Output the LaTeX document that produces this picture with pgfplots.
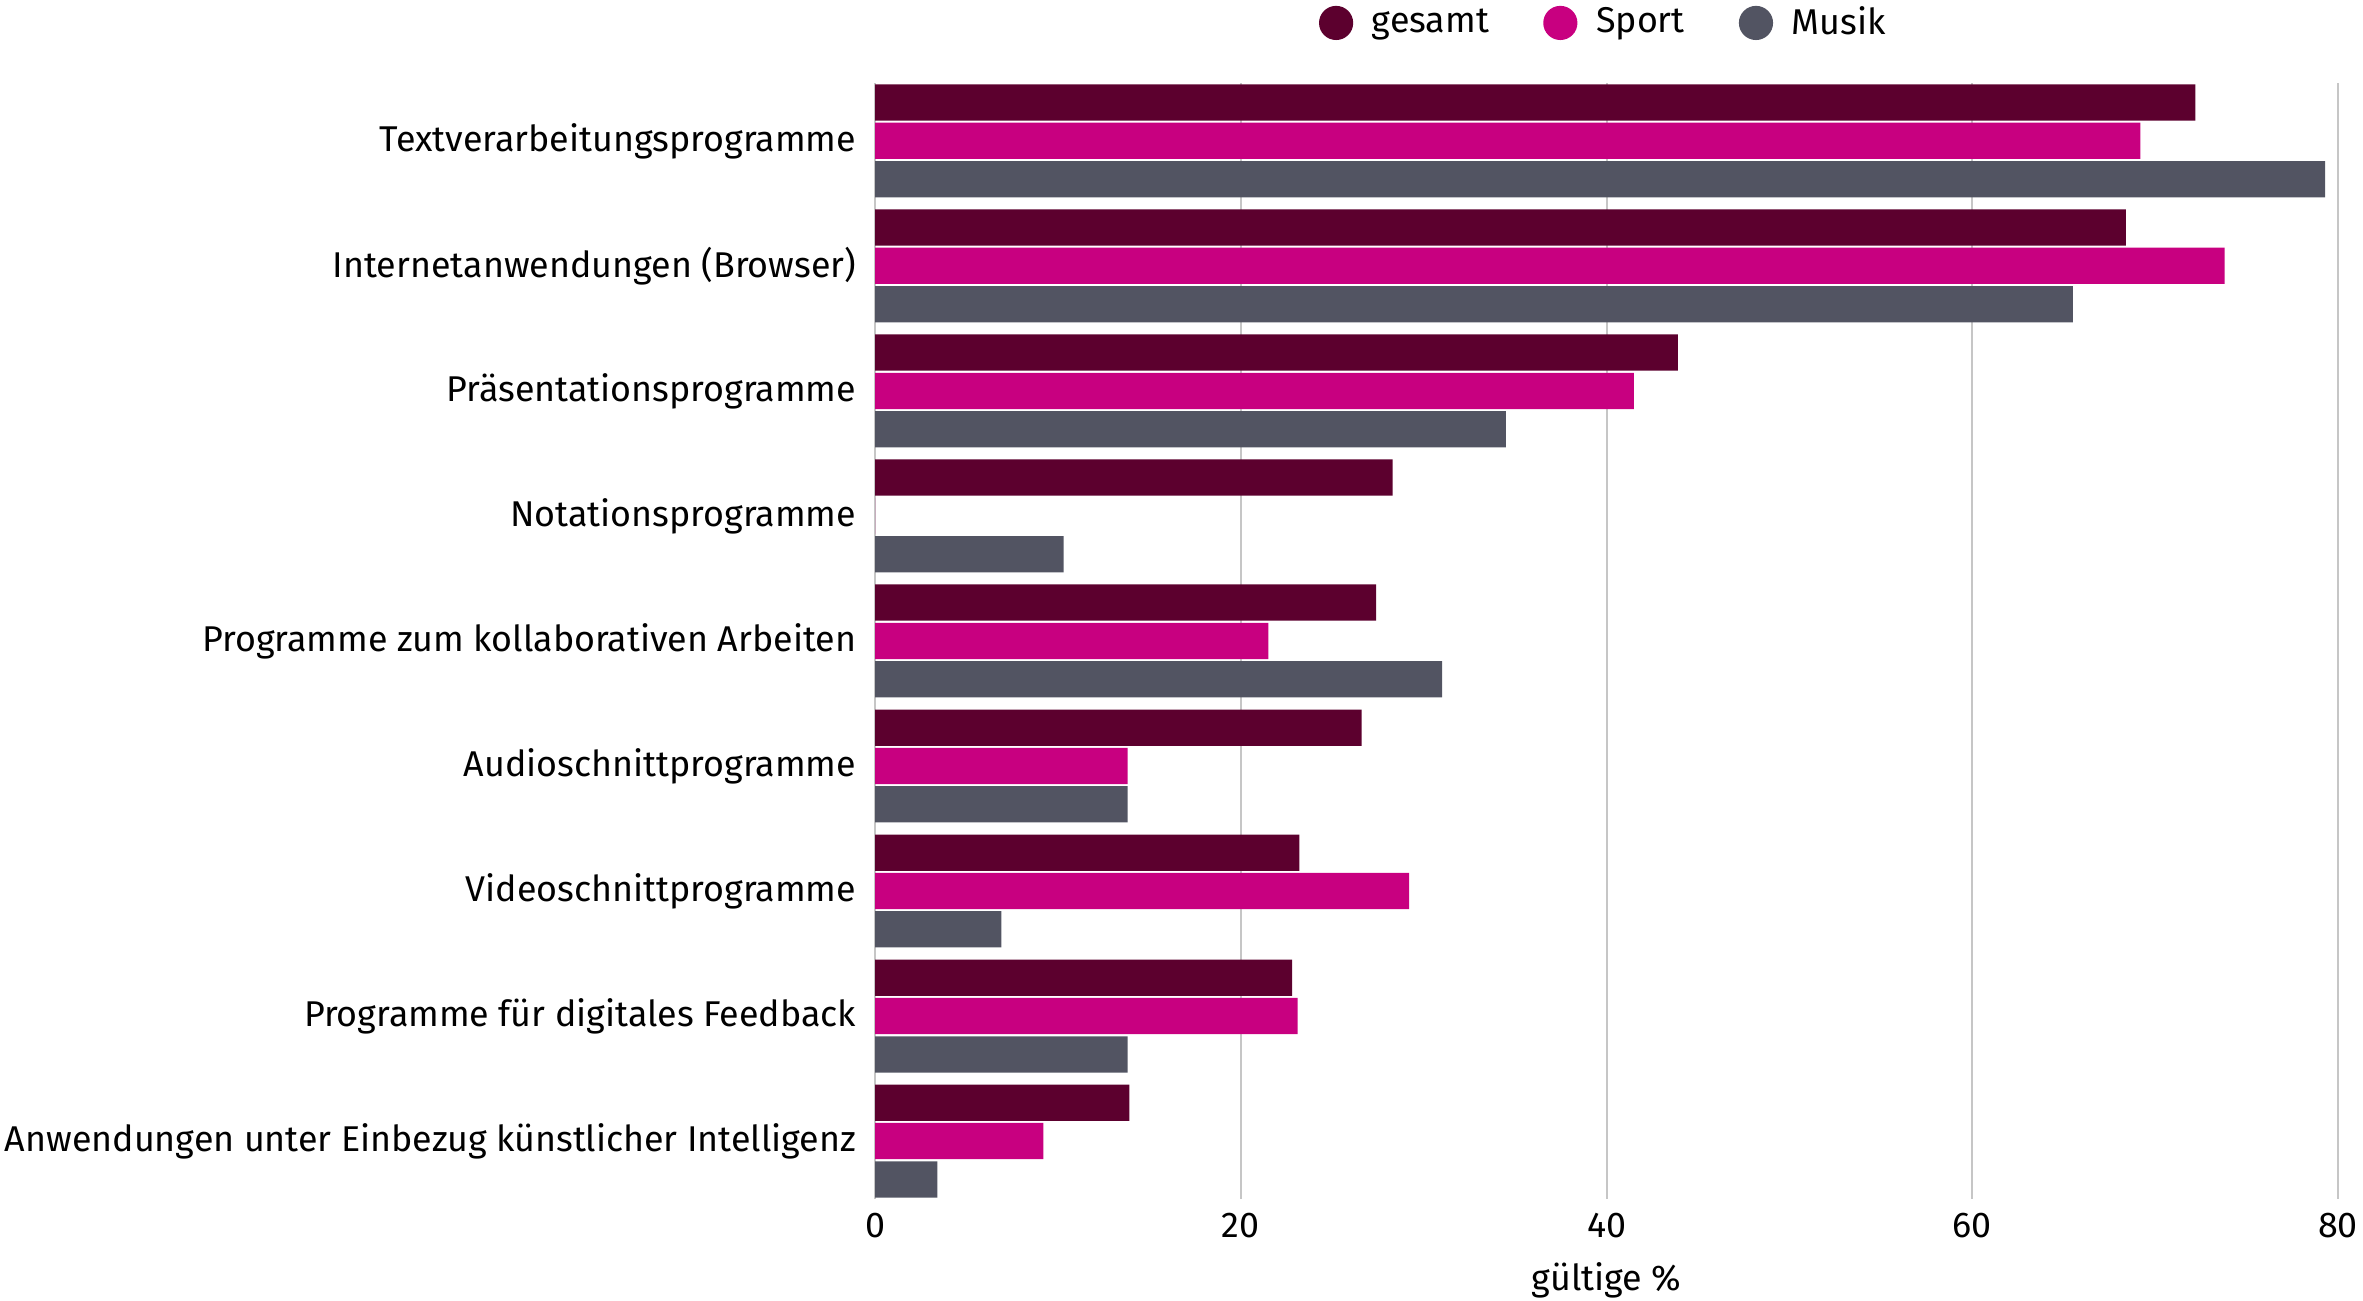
\documentclass[border=0pt]{standalone}
\usepackage{pgfplots}
\pgfplotsset{compat=1.18}
\usepackage{fontspec}
\setmainfont{Fira Sans}
\definecolor{cGes}{RGB}{92,0,46}
\definecolor{cSport}{RGB}{200,0,128}
\definecolor{cMusik}{RGB}{82,84,98}
\begin{document}
\fontsize{8.6pt}{10pt}\selectfont
\begin{tikzpicture}
\begin{axis}[
  name=ax, at={(0,0)}, anchor=south west,
  scale only axis, width=351pt, height=267.6pt,
  xbar, bar width=8.7pt,
  xmin=0, xmax=80, ymin=-0.46, ymax=8.46, y dir=reverse,
  xtick={0,20,40,60,80}, ytick={0,1,2,3,4,5,6,7,8},
  yticklabels={Textverarbeitungsprogramme, Internetanwendungen (Browser), Präsentationsprogramme, Notationsprogramme, Programme zum kollaborativen Arbeiten, Audioschnittprogramme, Videoschnittprogramme, Programme für digitales Feedback, Anwendungen unter Einbezug künstlicher Intelligenz},
  major tick length=0pt,
  axis line style={draw=none},
  xmajorgrids, grid style={gray!45, line width=0.5pt},
  /pgf/number format/assume math mode=true,
  ticklabel style={font=\fontsize{8.6pt}{10pt}\selectfont},
  yticklabel style={font=\fontsize{8.6pt}{10pt}\selectfont, xshift=-1.5pt},
  xticklabel style={yshift=-0.5pt},
  xlabel={gültige \%}, xlabel style={font=\fontsize{8.6pt}{10pt}\selectfont, yshift=0.2pt},
  legend style={at={(0.5,1.0235)}, anchor=south, draw=none, legend columns=3, font=\fontsize{8.6pt}{10pt}\selectfont,
    /tikz/every even column/.append style={column sep=11pt}},
  legend image code/.code={\fill[#1] (0pt,0pt) circle (4.1pt); \path (6.6pt,0pt);},
]
\addplot[fill=cGes, draw=none, bar shift=9.2pt] coordinates {(72.2,0) (68.4,1) (43.9,2) (28.3,3) (27.4,4) (26.6,5) (23.2,6) (22.8,7) (13.9,8)};
\addplot[fill=cSport, draw=none, bar shift=0pt] coordinates {(69.2,0) (73.8,1) (41.5,2) (0,3) (21.5,4) (13.8,5) (29.2,6) (23.1,7) (9.2,8)};
\addplot[fill=cMusik, draw=none, bar shift=-9.2pt] coordinates {(79.3,0) (65.5,1) (34.5,2) (10.3,3) (31.0,4) (13.8,5) (6.9,6) (13.8,7) (3.4,8)};
\legend{gesamt, Sport, Musik}
\end{axis}
\pgfresetboundingbox
\path[use as bounding box] (ax.south west) ++(-210pt,-24.4pt) rectangle ++(567pt,312pt);
\end{tikzpicture}
\end{document}
